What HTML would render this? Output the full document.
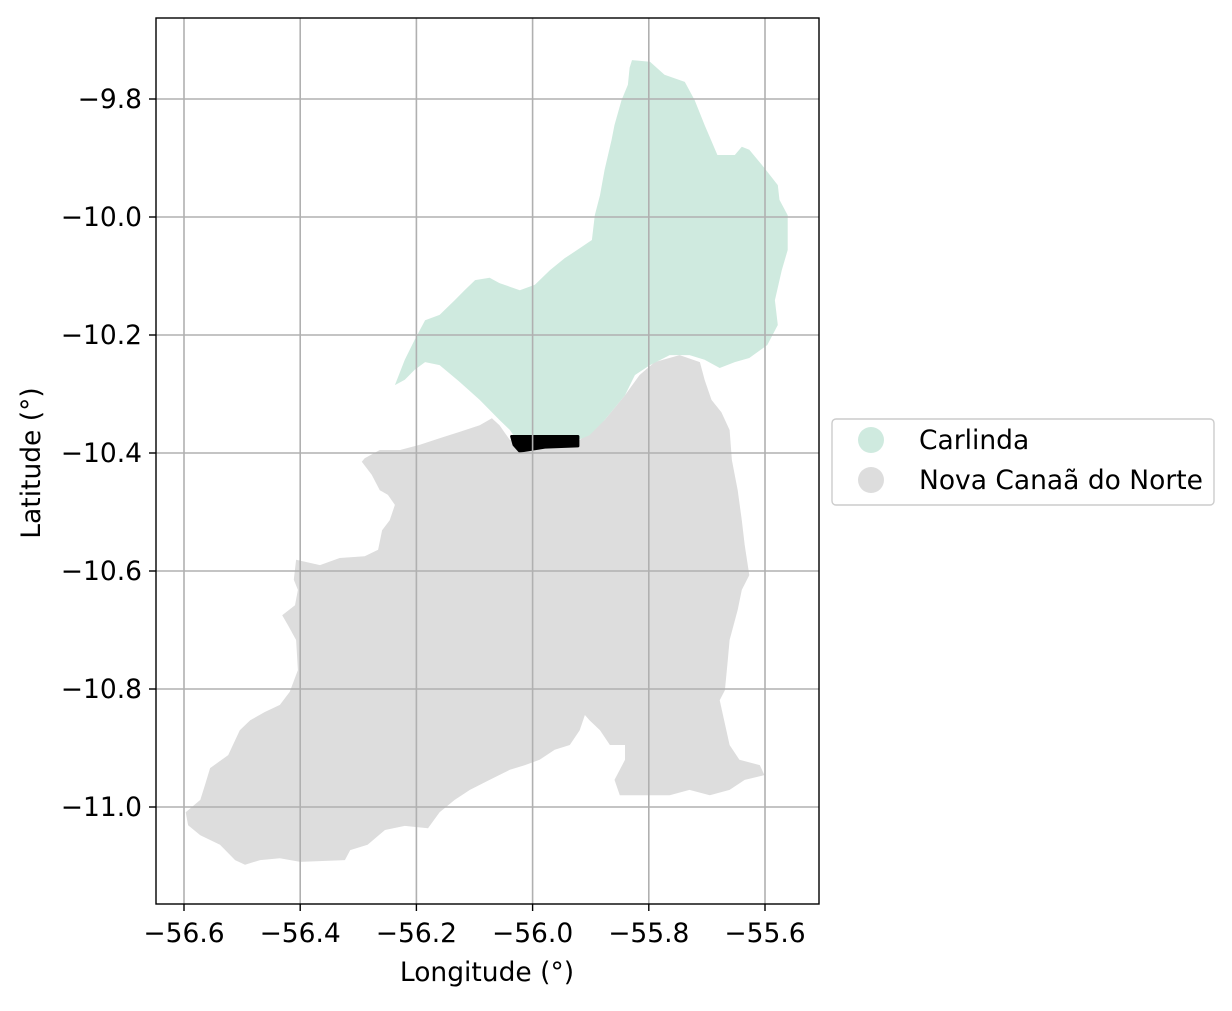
<!DOCTYPE html>
<html><head><meta charset="utf-8"><style>
body{margin:0;background:#fff}
svg text{font-family:"DejaVu Sans","Liberation Sans",sans-serif;fill:#000}
</style></head><body>
<svg id="chart" width="1232" height="1006" viewBox="0 0 1232 1006" xmlns="http://www.w3.org/2000/svg">
<g id="polys"></g>
<g id="grid"></g>
<rect x="156" y="18" width="663" height="886" fill="none" stroke="#000" stroke-width="1.4"/>
<g id="ticks"></g>
<text x="487" y="981" font-size="26.5" text-anchor="middle">Longitude (°)</text>
<text transform="translate(40,463) rotate(-90)" font-size="26.5" text-anchor="middle">Latitude (°)</text>
<g>
<rect x="832" y="419" width="382" height="86" rx="4" fill="#fff" stroke="#ccc" stroke-width="1.4"/>
<circle cx="871" cy="440" r="13" fill="#cfeadf"/>
<text x="919" y="449" font-size="26.5">Carlinda</text>
<circle cx="871" cy="480" r="13" fill="#dddddd"/>
<text x="919" y="489" font-size="26.5">Nova Canaã do Norte</text>
</g>
</svg>
<script>
const xTicks=[-56.6,-56.4,-56.2,-56.0,-55.8,-55.6];
const xTickLabels=["−56.6","−56.4","−56.2","−56.0","−55.8","−55.6"];
const yTicks=[-9.8,-10.0,-10.2,-10.4,-10.6,-10.8,-11.0];
const yTickLabels=["−9.8","−10.0","−10.2","−10.4","−10.6","−10.8","−11.0"];
const carlindaLon=[-55.829,-55.798,-55.773,-55.738,-55.721,-55.704,-55.682,-55.652,-55.640,-55.627,-55.601,-55.578,-55.575,-55.561,-55.561,-55.571,-55.583,-55.578,-55.596,-55.627,-55.652,-55.678,-55.704,-55.730,-55.764,-55.798,-55.824,-55.841,-55.876,-55.902,-55.922,-55.988,-56.022,-56.039,-56.057,-56.091,-56.125,-56.160,-56.185,-56.203,-56.220,-56.237,-56.220,-56.203,-56.185,-56.160,-56.134,-56.117,-56.099,-56.074,-56.057,-56.022,-55.996,-55.970,-55.945,-55.919,-55.898,-55.893,-55.884,-55.876,-55.864,-55.859,-55.847,-55.836,-55.833];
const carlindaLat=[-9.734,-9.737,-9.759,-9.771,-9.802,-9.844,-9.895,-9.895,-9.881,-9.886,-9.917,-9.946,-9.971,-9.997,-10.056,-10.090,-10.141,-10.183,-10.217,-10.239,-10.246,-10.256,-10.242,-10.234,-10.234,-10.251,-10.268,-10.302,-10.344,-10.370,-10.378,-10.378,-10.386,-10.361,-10.344,-10.310,-10.280,-10.251,-10.246,-10.259,-10.276,-10.285,-10.242,-10.208,-10.175,-10.166,-10.141,-10.124,-10.107,-10.103,-10.112,-10.124,-10.115,-10.090,-10.070,-10.053,-10.039,-9.997,-9.963,-9.920,-9.869,-9.844,-9.802,-9.776,-9.747];
const novaLon=[-56.289,-56.263,-56.228,-56.194,-56.160,-56.125,-56.091,-56.070,-56.057,-56.039,-55.919,-55.876,-55.841,-55.816,-55.790,-55.747,-55.712,-55.704,-55.692,-55.675,-55.661,-55.657,-55.647,-55.640,-55.635,-55.627,-55.640,-55.647,-55.661,-55.664,-55.669,-55.678,-55.661,-55.644,-55.609,-55.601,-55.635,-55.661,-55.695,-55.730,-55.764,-55.816,-55.850,-55.859,-55.841,-55.841,-55.867,-55.884,-55.902,-55.910,-55.919,-55.936,-55.962,-55.988,-56.013,-56.039,-56.074,-56.108,-56.134,-56.160,-56.180,-56.220,-56.254,-56.284,-56.314,-56.323,-56.400,-56.435,-56.469,-56.495,-56.512,-56.538,-56.572,-56.593,-56.597,-56.572,-56.564,-56.555,-56.524,-56.504,-56.486,-56.461,-56.435,-56.418,-56.404,-56.407,-56.421,-56.431,-56.409,-56.404,-56.411,-56.407,-56.366,-56.332,-56.289,-56.266,-56.259,-56.246,-56.237,-56.249,-56.263,-56.277,-56.294];
const novaLat=[-10.409,-10.395,-10.395,-10.386,-10.375,-10.364,-10.353,-10.341,-10.353,-10.378,-10.378,-10.344,-10.302,-10.268,-10.246,-10.234,-10.246,-10.276,-10.310,-10.331,-10.361,-10.412,-10.463,-10.514,-10.556,-10.607,-10.632,-10.666,-10.717,-10.751,-10.802,-10.819,-10.895,-10.920,-10.929,-10.946,-10.954,-10.971,-10.980,-10.971,-10.980,-10.980,-10.980,-10.954,-10.920,-10.895,-10.895,-10.870,-10.853,-10.844,-10.870,-10.895,-10.903,-10.920,-10.929,-10.937,-10.954,-10.971,-10.988,-11.009,-11.036,-11.032,-11.039,-11.064,-11.073,-11.090,-11.093,-11.087,-11.090,-11.098,-11.090,-11.064,-11.048,-11.031,-11.009,-10.988,-10.963,-10.934,-10.912,-10.870,-10.853,-10.839,-10.827,-10.805,-10.768,-10.717,-10.692,-10.675,-10.658,-10.632,-10.615,-10.581,-10.590,-10.578,-10.575,-10.564,-10.531,-10.514,-10.488,-10.471,-10.463,-10.437,-10.415];
const siteLon=[-56.036,-55.922,-55.922,-55.979,-56.022,-56.032];
const siteLat=[-10.372,-10.372,-10.388,-10.390,-10.397,-10.386];

const NS='http://www.w3.org/2000/svg';
function X(v){return 184+(v+56.6)*581;}
function Y(v){return 99-(v+9.8)*590;}
function mk(t,a,p){const e=document.createElementNS(NS,t);for(const k in a)e.setAttribute(k,a[k]);p.appendChild(e);return e;}
const polys=document.getElementById('polys');
function poly(lon,lat,fill,name,stroke){
  const pts=lon.map((v,i)=>X(v).toFixed(1)+','+Y(lat[i]).toFixed(1)).join(' ');
  const e=mk('polygon',{points:pts,fill:fill,stroke:stroke||'none','stroke-width':stroke?3:0,'stroke-linejoin':'round'},polys);
  
  
}
poly(novaLon,novaLat,'#dddddd','nova-canaa-do-norte-region');
poly(carlindaLon,carlindaLat,'#cfeadf','carlinda-region');
poly(siteLon,siteLat,'#000','site-polygon','#000');
const grid=document.getElementById('grid'),ticks=document.getElementById('ticks');
xTicks.forEach((v,i)=>{
  const x=X(v);
  const g=mk('line',{x1:x,x2:x,y1:18,y2:904,stroke:'#b0b0b0','stroke-width':1.6},grid);
  
  
  mk('line',{x1:x,x2:x,y1:904,y2:911,stroke:'#000','stroke-width':1.4},ticks);
  const t=mk('text',{x:x,y:942,'font-size':26.5,'text-anchor':'middle'},ticks);
  t.textContent=xTickLabels[i];
  
  
});
yTicks.forEach((v,i)=>{
  const y=Y(v);
  const g=mk('line',{x1:156,x2:819,y1:y,y2:y,stroke:'#b0b0b0','stroke-width':1.6},grid);
  
  
  mk('line',{x1:149,x2:156,y1:y,y2:y,stroke:'#000','stroke-width':1.4},ticks);
  const t=mk('text',{x:142,y:y+9,'font-size':26.5,'text-anchor':'end'},ticks);
  t.textContent=yTickLabels[i];
  
  
});
</script>
</body></html>
